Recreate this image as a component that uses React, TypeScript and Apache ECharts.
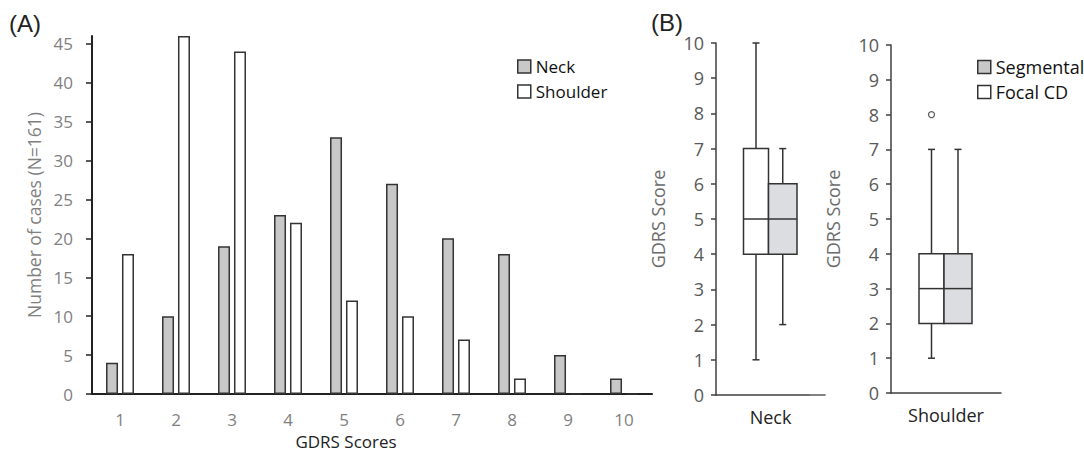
import React, { useEffect, useRef } from "react";
import * as echarts from "echarts";

// ---------- Data ----------
const scoreCategories = ["1", "2", "3", "4", "5", "6", "7", "8", "9", "10"];
const neckCounts = [4, 10, 19, 23, 33, 27, 20, 18, 5, 2];
const shoulderCounts = [18, 46, 44, 22, 12, 10, 7, 2, 0, 0];
const countTicks = [0, 5, 10, 15, 20, 25, 30, 35, 40, 45];

// box stats: [min, q1, median, q3, max]
const neckFocal = [1, 4, 5, 7, 10];
const neckSegmental = [2, 4, 5, 6, 7];
const shoulderFocal = [1, 2, 3, 4, 7];
const shoulderSegmental = [2, 2, 3, 4, 7];
const shoulderFocalOutliers = [8];

const FONT = "Open Sans";
const DARK = "#333333";
const NECK_FILL = "#c8c8c8";
const SEG_FILL = "#dcdde0";

function boxSeries(name: string, gridIdx: number, stats: number[], fill: string, offL: number, offR: number) {
  return {
    type: "custom",
    name,
    xAxisIndex: gridIdx,
    yAxisIndex: gridIdx,
    data: [[0, ...stats]],
    itemStyle: { color: fill, borderColor: DARK, borderWidth: 1.5 },
    encode: { x: 0, y: [1, 2, 3, 4, 5] },
    renderItem: (params: any, api: any) => {
      const lo = api.coord([0, api.value(1)]);
      const q1 = api.coord([0, api.value(2)])[1];
      const med = api.coord([0, api.value(3)])[1];
      const q3 = api.coord([0, api.value(4)])[1];
      const hi = api.coord([0, api.value(5)])[1];
      const cx = lo[0];
      const x0 = cx + offL;
      const x1 = cx + offR;
      const wx = (x0 + x1) / 2;
      const ls = { stroke: DARK, lineWidth: 1.5 };
      const children: any[] = [];
      if (hi < q3) {
        children.push({ type: "line", shape: { x1: wx, y1: q3, x2: wx, y2: hi }, style: ls });
        children.push({ type: "line", shape: { x1: wx - 3.5, y1: hi, x2: wx + 3.5, y2: hi }, style: ls });
      }
      if (lo[1] > q1) {
        children.push({ type: "line", shape: { x1: wx, y1: q1, x2: wx, y2: lo[1] }, style: ls });
        children.push({ type: "line", shape: { x1: wx - 3.5, y1: lo[1], x2: wx + 3.5, y2: lo[1] }, style: ls });
      }
      children.push({
        type: "rect",
        shape: { x: x0, y: q3, width: x1 - x0, height: q1 - q3 },
        style: { fill, stroke: DARK, lineWidth: 1.5 },
      });
      children.push({ type: "line", shape: { x1: x0, y1: med, x2: x1, y2: med }, style: ls });
      return { type: "group", children };
    },
  };
}

export default function App() {
  const ref = useRef<HTMLDivElement>(null);

  useEffect(() => {
    if (!ref.current) return;
    const chart = echarts.init(ref.current, undefined, { renderer: "svg" });

    const boxYAxis = (gridIndex: number) => ({
      type: "value",
      gridIndex,
      min: 0,
      max: 10,
      interval: 1,
      name: "GDRS Score",
      nameLocation: "middle",
      nameGap: 49,
      nameTextStyle: { color: "#6b6b6b", fontSize: 18, fontFamily: FONT },
      axisLine: { show: true, lineStyle: { color: "#404040", width: 1.5 } },
      axisTick: { show: true, length: 5, lineStyle: { color: "#404040", width: 1.5 } },
      axisLabel: { color: "#595959", fontSize: 18, margin: 12, fontFamily: FONT },
      splitLine: { show: false },
    });

    const boxXAxis = (gridIndex: number, label: string) => ({
      type: "category",
      gridIndex,
      data: [label],
      axisLine: { show: true, lineStyle: { color: "#404040", width: 1.5 } },
      axisTick: { show: false },
      axisLabel: { color: "#222", fontSize: 18, margin: 13, fontFamily: FONT },
    });

    chart.setOption({
      animation: false,
      backgroundColor: "#ffffff",
      textStyle: { fontFamily: FONT },
      grid: [
        { left: 92, top: 36, width: 560, height: 358 },
        { left: 716, top: 43, width: 109, height: 352 },
        { left: 891, top: 45, width: 110, height: 348 },
      ],
      xAxis: [
        {
          type: "category",
          gridIndex: 0,
          data: scoreCategories,
          axisLine: { show: true, lineStyle: { color: "#222", width: 2 } },
          axisTick: { show: false },
          axisLabel: { color: "#7f7f7f", fontSize: 17, margin: 17, fontFamily: FONT },
        },
        boxXAxis(1, "Neck"),
        boxXAxis(2, "Shoulder"),
      ],
      yAxis: [
        {
          type: "value",
          gridIndex: 0,
          min: 0,
          max: 46,
          name: "Number of cases (N=161)",
          nameLocation: "middle",
          nameGap: 49,
          nameTextStyle: { color: "#7f7f7f", fontSize: 17.5, fontFamily: FONT },
          axisLine: { show: true, lineStyle: { color: "#222", width: 2 } },
          axisTick: { show: true, length: 6, customValues: countTicks, lineStyle: { color: "#222", width: 1.5 } },
          axisLabel: { color: "#7f7f7f", fontSize: 17, margin: 19, customValues: countTicks, fontFamily: FONT },
          splitLine: { show: false },
        },
        boxYAxis(1),
        boxYAxis(2),
      ],
      legend: [
        {
          orient: "vertical",
          left: 517,
          top: 58,
          padding: 0,
          icon: "rect",
          itemWidth: 13,
          itemHeight: 13,
          itemGap: 8,
          selectedMode: false,
          textStyle: { color: "#111", fontSize: 17, lineHeight: 14, fontFamily: FONT },
          data: [
            { name: "Neck", itemStyle: { color: NECK_FILL, borderColor: DARK, borderWidth: 1.5 } },
            { name: "Shoulder", itemStyle: { color: "#ffffff", borderColor: DARK, borderWidth: 1.5 } },
          ],
        },
        {
          orient: "vertical",
          left: 977,
          top: 58,
          padding: 0,
          icon: "rect",
          itemWidth: 13,
          itemHeight: 13,
          itemGap: 7,
          selectedMode: false,
          textStyle: { color: "#111", fontSize: 18, lineHeight: 14, fontFamily: FONT },
          data: [
            { name: "Segmental", itemStyle: { color: NECK_FILL, borderColor: DARK, borderWidth: 1.5 } },
            { name: "Focal CD", itemStyle: { color: "#ffffff", borderColor: DARK, borderWidth: 1.5 } },
          ],
        },
      ],
      series: [
        {
          type: "bar",
          name: "Neck",
          xAxisIndex: 0,
          yAxisIndex: 0,
          data: neckCounts,
          barWidth: 12,
          barGap: "33%",
          itemStyle: { color: NECK_FILL, borderColor: DARK, borderWidth: 1.5 },
        },
        {
          type: "bar",
          name: "Shoulder",
          xAxisIndex: 0,
          yAxisIndex: 0,
          data: shoulderCounts,
          barWidth: 12,
          barGap: "33%",
          itemStyle: { color: "#ffffff", borderColor: DARK, borderWidth: 1.5 },
        },
        boxSeries("Focal CD", 1, neckFocal, "#ffffff", -27, -2),
        boxSeries("Segmental", 1, neckSegmental, SEG_FILL, -2, 26.5),
        boxSeries("Focal CD", 2, shoulderFocal, "#ffffff", -27, -2),
        boxSeries("Segmental", 2, shoulderSegmental, SEG_FILL, -2, 26),
        {
          type: "scatter",
          name: "Focal CD",
          xAxisIndex: 2,
          yAxisIndex: 2,
          data: shoulderFocalOutliers.map((v) => [0, v]),
          symbol: "circle",
          symbolSize: 6,
          symbolOffset: [-14.5, 0],
          itemStyle: { color: "#ffffff", borderColor: DARK, borderWidth: 1.3 },
        },
      ],
      graphic: [
        {
          type: "text",
          left: 9,
          top: 11,
          style: { text: "(A)", fontSize: 24, fill: "#222", fontFamily: "Liberation Sans" },
        },
        {
          type: "text",
          left: 651,
          top: 10,
          style: { text: "(B)", fontSize: 24, fill: "#222", fontFamily: "Liberation Sans" },
        },
        {
          type: "text",
          x: 346,
          y: 441,
          style: {
            text: "GDRS Scores",
            fontSize: 17,
            lineHeight: 16,
            fill: "#222",
            fontFamily: FONT,
            align: "center",
            verticalAlign: "middle",
          },
        },
        {
          type: "line",
          z: 100,
          shape: { x1: 810, y1: 395, x2: 825, y2: 395 },
          style: { stroke: "#8a8a8a", lineWidth: 1.6 },
        },
      ],
    });

    return () => chart.dispose();
  }, []);

  return (
    <div
      ref={ref}
      style={{ position: "fixed", left: 0, top: 0, width: 1084, height: 452, background: "#fff" }}
    />
  );
}
